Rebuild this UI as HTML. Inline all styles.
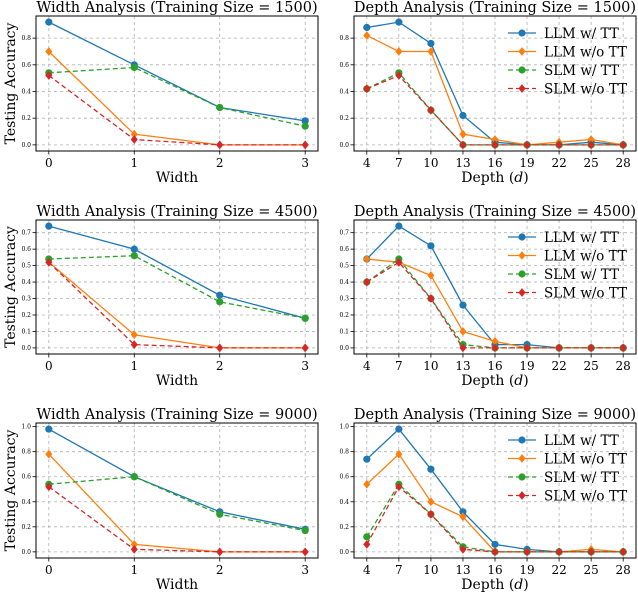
<!DOCTYPE html>
<html><head><meta charset="utf-8"><style>
body{margin:0;background:#fff;}
svg{display:block;font-family:"DejaVu Serif","Liberation Serif",serif;}
</style></head><body>
<svg id="fig" width="638" height="596" viewBox="0 0 638 596" xmlns="http://www.w3.org/2000/svg"></svg>
<script>
const widthCats=[0,1,2,3];
const depthCats=[4,7,10,13,16,19,22,25,28];
const seriesNames=["LLM w/ TT","LLM w/o TT","SLM w/ TT","SLM w/o TT"];
const sizes=[1500,4500,9000];
const w1500_llmTT=[0.92,0.60,0.28,0.18];
const w1500_llmNo=[0.70,0.08,0,0];
const w1500_slmTT=[0.54,0.58,0.28,0.14];
const w1500_slmNo=[0.52,0.04,0,0];
const d1500_llmTT=[0.88,0.92,0.76,0.22,0.02,0,0,0.02,0];
const d1500_llmNo=[0.82,0.70,0.70,0.08,0.04,0,0.02,0.04,0];
const d1500_slmTT=[0.42,0.54,0.26,0,0,0,0,0,0];
const d1500_slmNo=[0.42,0.52,0.26,0,0,0,0,0,0];
const w4500_llmTT=[0.74,0.60,0.32,0.18];
const w4500_llmNo=[0.52,0.08,0,0];
const w4500_slmTT=[0.54,0.56,0.28,0.18];
const w4500_slmNo=[0.52,0.02,0,0];
const d4500_llmTT=[0.54,0.74,0.62,0.26,0.02,0.02,0,0,0];
const d4500_llmNo=[0.54,0.52,0.44,0.10,0.04,0,0,0,0];
const d4500_slmTT=[0.40,0.54,0.30,0.02,0,0,0,0,0];
const d4500_slmNo=[0.40,0.52,0.30,0,0,0,0,0,0];
const w9000_llmTT=[0.98,0.60,0.32,0.18];
const w9000_llmNo=[0.78,0.06,0,0];
const w9000_slmTT=[0.54,0.60,0.30,0.17];
const w9000_slmNo=[0.52,0.02,0,0];
const d9000_llmTT=[0.74,0.98,0.66,0.32,0.06,0.02,0,0,0];
const d9000_llmNo=[0.54,0.78,0.40,0.28,0,0,0,0.02,0];
const d9000_slmTT=[0.12,0.54,0.30,0.04,0,0,0,0,0];
const d9000_slmNo=[0.06,0.52,0.30,0.02,0,0,0,0,0];
const yTicks1=[0,0.2,0.4,0.6,0.8];
const yTicks2=[0,0.1,0.2,0.3,0.4,0.5,0.6,0.7];
const yTicks3=[0,0.2,0.4,0.6,0.8,1.0];

const NS="http://www.w3.org/2000/svg";
const svg=document.getElementById('fig');
function mk(tag,attrs,parent,text){const e=document.createElementNS(NS,tag);for(const k in attrs)e.setAttribute(k,attrs[k]);if(text!==undefined)e.textContent=text;(parent||svg).appendChild(e);return e;}
const colors=["#1f77b4","#ff7f0e","#2ca02c","#d62728"];
const markers=["circle","diamond","circle","diamond"];
const dashes=["none","none","5,3","5,3"];

function marker(g,type,x,y,c){
  let m;
  if(type==="circle"){m=mk('circle',{cx:x,cy:y,r:3.6,fill:c},g);}
  else{const s=4.4;m=mk('polygon',{points:`${x},${y-s} ${x+s*0.8},${y} ${x},${y+s} ${x-s*0.8},${y}`,fill:c},g);}
  
  
}

const rows=[
 {top:16,bot:151,ticks:yTicks1,w:[w1500_llmTT,w1500_llmNo,w1500_slmTT,w1500_slmNo],d:[d1500_llmTT,d1500_llmNo,d1500_slmTT,d1500_slmNo]},
 {top:220,bot:354,ticks:yTicks2,w:[w4500_llmTT,w4500_llmNo,w4500_slmTT,w4500_slmNo],d:[d4500_llmTT,d4500_llmNo,d4500_slmTT,d4500_slmNo]},
 {top:423,bot:558,ticks:yTicks3,w:[w9000_llmTT,w9000_llmNo,w9000_slmTT,w9000_slmNo],d:[d9000_llmTT,d9000_llmNo,d9000_slmTT,d9000_slmNo]}
];

function panel(ri,kind){
  const r=rows[ri];
  const L=kind==="w"?36:354, R=kind==="w"?318:636;
  const cats=kind==="w"?widthCats:depthCats;
  const series=r[kind];
  const g=mk('g',{});
  
  
  let all=[].concat(...r.w,...r.d);
  let mn=Math.min(...all),mx=Math.max(...all);
  let pad=(mx-mn)*0.05;
  const y0=mn-pad,y1=mx+pad;
  const c0=cats[0],c1=cats[cats.length-1],cp=(c1-c0)*0.05;
  const X=v=>L+(v-(c0-cp))/((c1+cp)-(c0-cp))*(R-L);
  const Y=v=>r.bot-(v-y0)/(y1-y0)*(r.bot-r.top);
  cats.forEach(c=>{const l=mk('line',{x1:X(c),x2:X(c),y1:r.top,y2:r.bot,stroke:'#b0b0b0','stroke-width':0.8,'stroke-dasharray':'3,3'},g);});
  r.ticks.forEach(t=>{const l=mk('line',{x1:L,x2:R,y1:Y(t),y2:Y(t),stroke:'#b0b0b0','stroke-width':0.8,'stroke-dasharray':'3,3'},g);});
  cats.forEach(c=>{mk('line',{x1:X(c),x2:X(c),y1:r.bot,y2:r.bot+3.5,stroke:'#000','stroke-width':0.8},g);
    const t=mk('text',{x:X(c),y:r.bot+16,'font-size':12,'text-anchor':'middle'},g,String(c));});
  r.ticks.forEach(v=>{mk('line',{x1:L-3.5,x2:L,y1:Y(v),y2:Y(v),stroke:'#000','stroke-width':0.8},g);
    const t=mk('text',{x:L-5,y:Y(v)+2,'font-size':6,'text-anchor':'end'},g,v.toFixed(1));});
  series.forEach((vals,si)=>{
    const sg=mk('g',{},g);
    
    
    const pts=vals.map((v,i)=>X(cats[i])+','+Y(v)).join(' ');
    const pl=mk('polyline',{points:pts,fill:'none',stroke:colors[si],'stroke-width':1.3,'stroke-dasharray':dashes[si]},sg);
    
    vals.forEach((v,i)=>marker(sg,markers[si],X(cats[i]),Y(v),colors[si]));
  });
  const fr=mk('rect',{x:L,y:r.top,width:R-L,height:r.bot-r.top,fill:'none',stroke:'#000','stroke-width':1},g);
  
  const tt=mk('text',{x:(L+R)/2,y:r.top-4,'font-size':14.5,'text-anchor':'middle'},g,(kind==="w"?'Width':'Depth')+' Analysis (Training Size = '+sizes[ri]+')');
  
  const xl=mk('text',{x:(L+R)/2,y:r.bot+31,'font-size':14,'text-anchor':'middle'},g);
  
  if(kind==="w"){xl.textContent='Width';}
  else{xl.textContent='Depth (';mk('tspan',{'font-style':'italic'},xl,'d');mk('tspan',{},xl,')');}
  if(kind==="w"){
    const yl=mk('text',{x:0,y:0,'font-size':14,'text-anchor':'middle',transform:`translate(15,${(r.top+r.bot)/2}) rotate(-90)`},g,'Testing Accuracy');
    
  } else {
    const lg=mk('g',{},g);
    seriesNames.forEach((n,si)=>{
      const ey=r.top+17+si*18.5;
      const eg=mk('g',{},lg);
      mk('line',{x1:508,x2:536,y1:ey,y2:ey,stroke:colors[si],'stroke-width':1.3,'stroke-dasharray':dashes[si]},eg);
      marker(eg,markers[si],522,ey,colors[si]);
      mk('text',{x:544,y:ey+5,'font-size':13.5},eg,n);
    });
  }
}
for(let i=0;i<3;i++){panel(i,"w");panel(i,"d");}
</script>
</body></html>
